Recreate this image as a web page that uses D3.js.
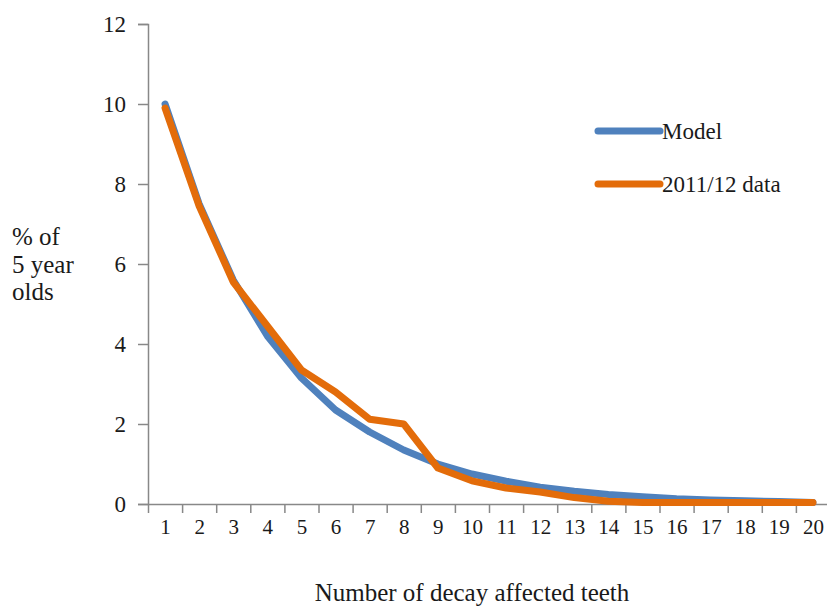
<!DOCTYPE html>
<html>
<head>
<meta charset="utf-8">
<script src="https://cdn.jsdelivr.net/npm/d3@7"></script>
<style>
  html, body { margin: 0; padding: 0; background: #fff; }
  svg { display: block; }
  svg text { font-family: "Liberation Serif", "Times New Roman", Times, serif !important; fill: #1a1a1a; }
</style>
</head>
<body>
<svg id="chart" width="827" height="608" font-family="Liberation Serif, serif"></svg>
<script>
const categories = [1,2,3,4,5,6,7,8,9,10,11,12,13,14,15,16,17,18,19,20];
const modelValues = [10.0,7.5,5.6,4.2,3.15,2.35,1.8,1.35,1.0,0.75,0.57,0.42,0.32,0.24,0.18,0.13,0.1,0.08,0.06,0.04];
const dataValues = [9.9,7.45,5.55,4.45,3.35,2.8,2.12,2.0,0.9,0.58,0.4,0.3,0.16,0.07,0.04,0.04,0.04,0.04,0.04,0.04];
const yTicks = [0,2,4,6,8,10,12];
const seriesNames = ["Model", "2011/12 data"];
const seriesColors = ["#4F81BD", "#E36C0A"];

const svg = d3.select("#chart");
const x = d3.scaleLinear().domain([0.5, 20.5]).range([148, 830]);
const y = d3.scaleLinear().domain([0, 12]).range([504, 24]);

// Y axis
const yAxis = svg.append("g").attr("transform", "translate(148,0)")
  .call(d3.axisLeft(y).tickValues(yTicks).tickSize(10).tickPadding(12).tickFormat(d3.format("d")));
yAxis.attr("font-family", null).attr("font-size", null);
yAxis.select(".domain").attr("stroke", "#888").attr("stroke-width", 1.5);
yAxis.selectAll(".tick line").attr("stroke", "#888").attr("stroke-width", 1.5);
yAxis.selectAll(".tick text").attr("font-size", 23);

// X axis boundary ticks
const bounds = d3.range(0, 21).map(i => i + 0.5);
const xAxisTicks = svg.append("g").attr("transform", "translate(0,504)")
  .call(d3.axisBottom(x).tickValues(bounds).tickSize(9).tickSizeOuter(0).tickFormat(""));
xAxisTicks.select(".domain").attr("stroke", "#888").attr("stroke-width", 1.5);
xAxisTicks.selectAll(".tick line").attr("stroke", "#888").attr("stroke-width", 1.5);

// X axis labels
const xAxisLabels = svg.append("g").attr("transform", "translate(0,504)")
  .call(d3.axisBottom(x).tickValues(categories).tickSize(0).tickPadding(15).tickFormat(d3.format("d")));
xAxisLabels.attr("font-family", null).attr("font-size", null);
xAxisLabels.select(".domain").remove();
xAxisLabels.selectAll(".tick text").attr("font-size", 21);

// Lines
const line = d3.line().x((d, i) => x(categories[i])).y(d => y(d));
[modelValues, dataValues].forEach((vals, k) => {
  svg.append("path").datum(vals)
    .attr("d", line)
    .attr("fill", "none")
    .attr("stroke", seriesColors[k])
    .attr("stroke-width", 7)
    .attr("stroke-linejoin", "round")
    .attr("stroke-linecap", "round");
});

// Legend
const legY = [131, 184];
seriesNames.forEach((name, k) => {
  svg.append("line")
    .attr("x1", 598).attr("x2", 660)
    .attr("y1", legY[k]).attr("y2", legY[k])
    .attr("stroke", seriesColors[k]).attr("stroke-width", 7).attr("stroke-linecap", "round");
  svg.append("text").attr("x", 662).attr("y", legY[k]).attr("dy", "0.35em")
    .attr("font-size", 23).text(name);
});

// Y title
const yTitle = ["% of", "5 year", "olds"];
svg.append("text").attr("x", 12).attr("y", 245).attr("font-size", 25)
  .selectAll("tspan").data(yTitle).join("tspan")
  .attr("x", 12).attr("dy", (d, i) => i === 0 ? 0 : 27.5).text(d => d);

// X title
svg.append("text").attr("x", 472).attr("y", 601).attr("text-anchor", "middle")
  .attr("font-size", 25).text("Number of decay affected teeth");
</script>
</body>
</html>
